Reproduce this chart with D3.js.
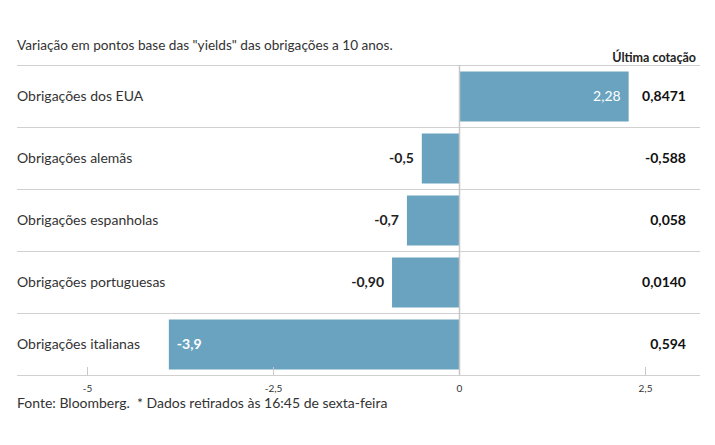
<!DOCTYPE html>
<html><head><meta charset="utf-8">
<script src="https://cdn.jsdelivr.net/npm/d3@7"></script>
<style>
body{margin:0;background:#fff;}
svg text{font-family:Lato, "Noto Sans", sans-serif;}
</style></head>
<body><svg id="c" width="715" height="445"></svg>
<script>
const categories = ["Obrigações dos EUA","Obrigações alemãs","Obrigações espanholas","Obrigações portuguesas","Obrigações italianas"];
const changes = [2.28, -0.5, -0.7, -0.90, -3.9];
const changeLabels = ["2,28","-0,5","-0,7","-0,90","-3,9"];
const lastQuotes = ["0,8471","-0,588","0,058","0,0140","0,594"];
const ticks = [-5, -2.5, 0, 2.5];
const tickLabels = ["-5","-2,5","0","2,5"];

const svg = d3.select("#c");
const x = d3.scaleLinear().domain([-5, 2.5]).range([87, 645]);
const rowY = d3.scaleBand().domain(categories).range([65, 375]);
const left = 17, right = 700;
const barColor = "#6aa3bf";

svg.append("text").attr("x", 17).attr("y", 50).attr("font-size", 13.6).attr("fill", "#333")
  .text('Variação em pontos base das "yields" das obrigações a 10 anos.');
svg.append("text").attr("x", 696).attr("y", 62).attr("text-anchor","end").attr("font-size", 12.5)
  .attr("font-weight","bold").attr("fill","#222").text("Última cotação");

categories.forEach(c => {
  svg.append("line").attr("x1", left).attr("x2", right).attr("y1", rowY(c)+0.5).attr("y2", rowY(c)+0.5)
    .attr("stroke", "#d0d0d0").attr("stroke-width", 1);
});

const bh = 50;
categories.forEach((c, i) => {
  const v = changes[i];
  const cy = rowY(c) + rowY.bandwidth()/2;
  svg.append("rect").attr("x", x(Math.min(0, v))).attr("width", Math.abs(x(v) - x(0)))
    .attr("y", cy - bh/2 + 0.5).attr("height", bh).attr("fill", barColor);
  svg.append("text").attr("x", left).attr("y", cy + 5).attr("font-size", 14).attr("fill", "#333").text(c);
  const w = Math.abs(x(v) - x(0));
  let lx, anchor, col;
  if (v > 0) { lx = x(v) - 8; anchor = "end"; col = "#fff"; }
  else if (w > 120) { lx = x(v) + 8; anchor = "start"; col = "#fff"; }
  else { lx = x(v) - 8; anchor = "end"; col = "#222"; }
  svg.append("text").attr("x", lx).attr("y", cy + 5).attr("text-anchor", anchor).attr("font-size", 14)
    .attr("font-weight", v > 0 ? "normal" : "bold").attr("fill", col).text(changeLabels[i]);
  svg.append("text").attr("x", 686).attr("y", cy + 5).attr("text-anchor","end").attr("font-size", 14)
    .attr("font-weight","bold").attr("fill","#111").text(lastQuotes[i]);
});

svg.append("line").attr("x1", x(0)+0.5).attr("x2", x(0)+0.5).attr("y1", 65).attr("y2", 376)
  .attr("stroke", "#c8c8c8").attr("stroke-width", 1.5);

const axis = d3.axisBottom(x).tickValues(ticks).tickFormat((d,i)=>tickLabels[i]).tickSize(0).tickPadding(10);
const ag = svg.append("g").attr("transform", "translate(0,375)").call(axis);
ag.select(".domain").remove();
ag.selectAll("text").attr("font-size", 10).attr("fill", "#333").attr("font-family","Lato, sans-serif");
svg.append("line").attr("x1", left).attr("x2", right).attr("y1", 375.5).attr("y2", 375.5).attr("stroke","#d0d0d0");
ticks.filter(t=>t!==0).forEach(t=>{
  svg.append("line").attr("x1", x(t)+0.5).attr("x2", x(t)+0.5).attr("y1", 367).attr("y2", 375).attr("stroke","#c8c8c8");
});

svg.append("text").attr("x", 17).attr("y", 408).attr("font-size", 14).attr("fill", "#333")
  .text("Fonte: Bloomberg.  * Dados retirados às 16:45 de sexta-feira").attr("xml:space","preserve");
</script></body></html>
